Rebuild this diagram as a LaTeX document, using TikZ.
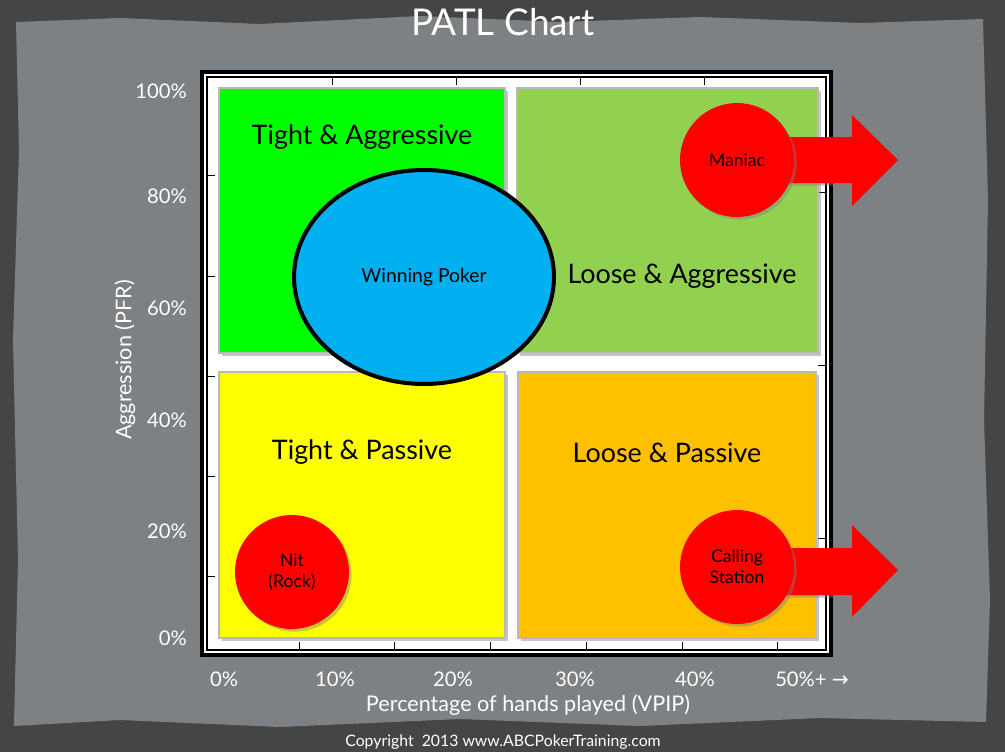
\documentclass[tikz,border=0pt]{standalone}
\usepackage{fontspec}
\setmainfont{Lato}
\newfontfamily\symbfont{DejaVu Sans}
\usetikzlibrary{shadows,shapes.geometric}
\definecolor{bgdark}{HTML}{454545}
\definecolor{bgpanel}{HTML}{7E8183}
\definecolor{tagreen}{HTML}{00FF00}
\definecolor{lagreen}{HTML}{92D050}
\definecolor{tpyellow}{HTML}{FFFF00}
\definecolor{lporange}{HTML}{FFC000}
\definecolor{winblue}{HTML}{00B0F0}
\tikzset{
  quad/.style={draw=gray!55, line width=1.5pt,
    drop shadow={shadow xshift=1.5pt, shadow yshift=-1.5pt, opacity=0.45}},
  quadlabel/.style={font=\fontsize{15.3}{17}\selectfont, text=black},
  ticklabel/.style={font=\fontsize{11.5}{13}\selectfont, text=white},
  player/.style={circle, fill=red, minimum size=2.28cm, inner sep=0pt, align=center,
    font=\fontsize{10}{12}\selectfont,
    drop shadow={shadow xshift=1.5pt, shadow yshift=-1.5pt, opacity=0.45}},
  bigarrow/.style={fill=red, drop shadow={shadow xshift=1.5pt, shadow yshift=-1.5pt, opacity=0.45}},
  tick/.style={line width=0.5pt}
}
\begin{document}
\begin{tikzpicture}[x=0.02cm,y=-0.02cm]
\useasboundingbox (0,0) rectangle (1005,752);
% background and torn paper panel
\fill[bgdark] (0,0) rectangle (1005,752);
\fill[bgpanel] (16,22) -- (120,18) -- (260,24) -- (420,16) -- (560,22) -- (700,17) -- (860,23) -- (983,19)
  -- (988,200) -- (984,420) -- (990,600) -- (986,722) -- (820,718) -- (640,726) -- (460,719) -- (280,727)
  -- (120,720) -- (14,726) -- (18,560) -- (13,340) -- (19,150) -- cycle;
\node[font=\fontsize{21}{25}\selectfont, text=white] (title) at (503,22) {PATL Chart};
% chart frame
\draw[line width=2.3pt, fill=white, drop shadow={shadow xshift=2pt, shadow yshift=-2pt, opacity=0.5}] (202,72) rectangle (831,655);
\draw[line width=0.6pt] (207,77) rectangle (826,650);
\foreach \x in {299,394,490,586,682,777} \draw[tick] (\x,650) -- (\x,642);
\foreach \x in {332,456,580,704} \draw[tick] (\x,77) -- (\x,85);
\foreach \y in {175,276,376,476,576} \draw[tick] (207,\y) -- (215,\y);
\foreach \y in {192,365,538} \draw[tick] (826,\y) -- (818,\y);
% quadrants
\draw[quad, fill=tagreen] (219,88) rectangle (505,353);
\draw[quad, fill=lagreen] (517,88) rectangle (818,353);
\draw[quad, fill=tpyellow] (219,372) rectangle (505,638);
\draw[quad, fill=lporange] (518,372) rectangle (816,638);
\node[quadlabel] (tag) at (362,137) {Tight \& Aggressive};
\node[quadlabel] (lag) at (682,276) {Loose \& Aggressive};
\node[quadlabel] (tp) at (362,452) {Tight \& Passive};
\node[quadlabel] (lp) at (667,453) {Loose \& Passive};
% winning poker
\node[ellipse, draw, line width=2.3pt, fill=winblue, minimum width=5.2cm, minimum height=4.28cm,
  font=\fontsize{11}{13}\selectfont] (win) at (424,277) {Winning Poker};
% players
\fill[bigarrow] (737,137) -- (852,137) -- (852,115) -- (898,160) -- (852,206) -- (852,183) -- (737,183) -- cycle;
\fill[bigarrow] (737,548) -- (852,548) -- (852,525) -- (898,570) -- (852,617) -- (852,595) -- (737,595) -- cycle;
\node[player] (maniac) at (737,160) {Maniac};
\node[player] (station) at (737,567) {Calling\\Station};
\node[player] (nit) at (292,572) {Nit\\(Rock)};
% axes
\node[ticklabel, anchor=east] (y100) at (193,91) {100\%};
\node[ticklabel, anchor=east] (y80) at (193,196) {80\%};
\node[ticklabel, anchor=east] (y60) at (193,308) {60\%};
\node[ticklabel, anchor=east] (y40) at (193,420) {40\%};
\node[ticklabel, anchor=east] (y20) at (193,531) {20\%};
\node[ticklabel, anchor=east] (y0) at (193,638) {0\%};
\node[ticklabel] (x0) at (224,679) {0\%};
\node[ticklabel] (x10) at (335,679) {10\%};
\node[ticklabel] (x20) at (453,679) {20\%};
\node[ticklabel] (x30) at (575,679) {30\%};
\node[ticklabel] (x40) at (695,679) {40\%};
\node[ticklabel] (x50) at (812,679) {50\%+ {\symbfont →}};
\node[ticklabel, font=\fontsize{12.3}{14}\selectfont] (xtitle) at (528,705) {Percentage of hands played (VPIP)};
\node[ticklabel, font=\fontsize{12.3}{14}\selectfont, rotate=90] (ytitle) at (125,360) {Aggression (PFR)};
\node[font=\fontsize{9}{11}\selectfont, text=white] (copy) at (503,742) {Copyright\ \ 2013 www.ABCPokerTraining.com};
\end{tikzpicture}
\end{document}
